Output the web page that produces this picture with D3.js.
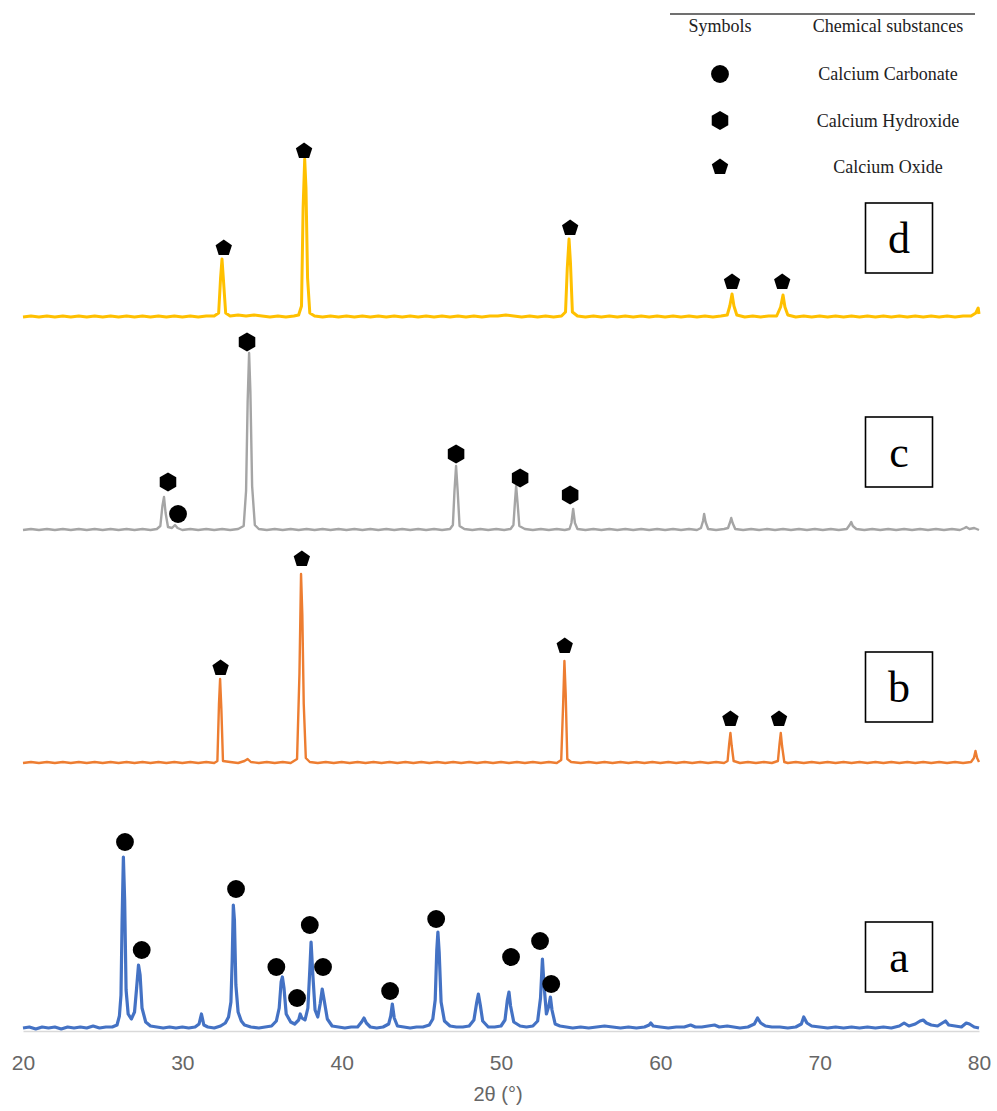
<!DOCTYPE html>
<html>
<head>
<meta charset="utf-8">
<script src="https://cdn.jsdelivr.net/npm/d3@7"></script>
<style>
  body { margin: 0; background: #fff; }
  .tick text { font-family: "Liberation Sans", Arial, sans-serif; font-size: 21px; fill: #666; }
</style>
</head>
<body>
<div id="chart"></div>
<script>
// x ticks (2 theta, degrees)
let thetaTicks = [20, 30, 40, 50, 60, 70, 80]

// sample names, bottom to top
let sampleNames = ["a", "b", "c", "d"]
let sampleColors = ["#4472C4", "#ED7D31", "#A5A5A5", "#FFC000"]

// vertical offset of each pattern (a.u.)
let sampleOffsets = [1, 267, 500, 713]

// legend
let legendKinds = ["carbonate", "hydroxide", "oxide"]
let legendNames = ["Calcium Carbonate", "Calcium Hydroxide", "Calcium Oxide"]

// patterns: [2theta, intensity above own baseline]
let patternA = [
  [20,2],[20.4,3],[20.8,1],[21.2,3],[21.6,2],[22,3],[22.4,1],[22.8,3],[23.2,2],[23.6,3],[24,2],[24.4,4],[24.8,2],[25.2,3],[25.6,3],[25.9,5],
  [26.05,14],[26.15,35],[26.22,110],[26.3,173],[26.38,130],[26.47,40],[26.6,16],[26.8,11],
  [27.0,18],[27.12,40],[27.25,65],[27.35,55],[27.47,22],[27.7,8],[28,4],[28.4,3],[28.8,2],[29.2,3],[29.6,2],[30,3],[30.4,2],[30.8,3],
  [31.05,6],[31.2,16],[31.35,5],[31.6,3],[32,2],[32.4,4],[32.7,7],
  [32.9,13],[33.05,28],[33.13,70],[33.2,125],[33.27,110],[33.36,45],[33.5,18],[33.7,9],[33.9,5],[34.3,3],[34.8,2],[35.2,3],[35.6,4],[35.9,9],
  [36.08,22],[36.2,48],[36.28,53],[36.38,42],[36.52,16],[36.8,8],[37.05,6],
  [37.3,10],[37.4,16],[37.5,12],[37.7,10],
  [37.88,22],[38.0,60],[38.08,88],[38.18,58],[38.33,20],[38.5,13],
  [38.65,26],[38.78,41],[38.9,30],[39.1,11],[39.4,4],[39.8,3],[40.2,2],[40.6,3],[41.0,3],
  [41.25,8],[41.4,12],[41.55,7],[41.8,3],[42.2,2],[42.6,3],[42.95,6],
  [43.08,14],[43.18,26],[43.3,12],[43.5,4],[43.9,3],[44.3,2],[44.7,3],[45.1,3],[45.5,5],[45.72,11],
  [45.87,30],[45.97,80],[46.04,98],[46.12,78],[46.24,28],[46.45,9],[46.8,4],[47.2,3],[47.6,3],[48.0,4],[48.3,10],
  [48.48,28],[48.58,36],[48.7,25],[48.85,9],[49.2,3],[49.6,3],[50.0,4],[50.25,10],
  [50.4,30],[50.5,38],[50.6,24],[50.8,8],[51.2,4],[51.6,3],[52.0,4],[52.3,9],
  [52.48,32],[52.6,71],[52.7,45],[52.85,16],
  [53.0,24],[53.1,33],[53.2,20],[53.4,6],[53.7,4],[54.1,3],[54.5,2],[55,3],[55.5,2],[56,3],[56.5,4],[57,3],[57.5,2],[58,3],[58.5,2],[59,3],
  [59.3,5],[59.4,7],[59.55,4],[60,3],[60.5,2],[61,3],[61.5,3],[61.9,5],[62.2,3],[62.6,3],[63.0,4],[63.4,5],[63.7,3],[64.2,4],[64.6,3],[65,2],[65.5,3],[65.9,6],
  [66.1,12],[66.3,7],[66.6,4],[67,3],[67.5,3],[68,2],[68.5,3],[68.85,6],
  [69.0,13],[69.2,7],[69.5,4],[70,3],[70.5,2],[71,3],[71.5,2],[72,3],[72.5,2],[73,3],[73.5,2],[74,3],[74.5,2],[75,4],
  [75.3,7],[75.6,4],[76,6],[76.3,9],[76.5,10],[76.7,7],[77,5],[77.4,4],[77.7,7],[77.9,9],[78.1,5],[78.5,4],[78.9,3],[79.2,7],[79.4,6],[79.7,3],[80,2]
]

let patternB = [
  [20,1],[20.5,2],[21,1],[21.5,2],[22,1],[22.5,2],[23,1],[23.5,2],[24,1],[24.5,2],[25,1],[25.5,2],[26,1],[26.5,2],[27,1],[27.5,2],[28,1],[28.5,2],
  [29,1],[29.5,2],[30,1],[30.5,2],[31,1],[31.5,2],[32,1],
  [32.2,3],[32.3,60],[32.37,85],[32.45,55],[32.55,3],[33,2],[33.5,1],[33.9,3],[34.1,5],[34.3,2],[34.8,1],[35.3,2],[35.8,1],[36.3,2],[36.8,1],
  [37.2,5],[37.35,90],[37.45,190],[37.53,150],[37.62,60],[37.75,6],[38,2],[38.5,1],[39,2],[39.5,1],[40,2],[40.5,1],[41,2],[41.5,1],[42,2],
  [42.5,1],[43,2],[43.5,1],[44,2],[44.5,1],[45,2],[45.5,1],[46,2],[46.5,1],[47,2],[47.5,1],[48,2],[48.5,1],[49,2],[49.5,1],[50,2],[50.5,1],
  [51,2],[51.5,1],[52,2],[52.5,1],[53,2],[53.5,1],
  [53.78,4],[53.9,60],[53.98,103],[54.06,70],[54.16,5],[54.4,2],[55,1],[55.5,2],[56,1],[56.5,2],[57,1],[57.5,2],[58,1],[58.5,2],[59,1],
  [59.5,2],[60,1],[60.5,2],[61,1],[61.5,2],[62,1],[62.5,2],[63,1],[63.5,2],[64,1],
  [64.22,3],[64.32,20],[64.4,31],[64.48,18],[64.6,3],[65,1],[65.5,2],[66,1],[66.5,2],[67,1],
  [67.38,3],[67.48,20],[67.56,31],[67.64,18],[67.78,2],[68,1],[68.5,2],[69,1],[69.5,2],[70,1],[70.5,2],[71,1],[71.5,2],[72,1],[72.5,2],
  [73,1],[73.5,2],[74,1],[74.5,2],[75,1],[75.5,2],[76,1],[76.5,2],[77,1],[77.5,2],[78,1],[78.5,2],[79,1],[79.5,2],
  [79.68,6],[79.78,13],[79.88,6],[80,2]
]

let patternC = [
  [20,1],[20.5,2],[21,1],[21.5,2],[22,1],[22.5,2],[23,1],[23.5,2],[24,1],[24.5,2],[25,1],[25.5,2],[26,1],[26.5,2],[27,1],[27.5,2],[28,1],[28.4,2],
  [28.62,5],[28.75,25],[28.85,34],[28.95,18],[29.1,4],[29.35,3],[29.54,6],[29.7,3],[30,1],[30.5,2],[31,1],[31.5,2],[32,1],[32.5,2],[33,1],[33.5,2],
  [33.85,5],[34.0,40],[34.1,130],[34.19,178],[34.27,140],[34.38,45],[34.55,6],[34.8,2],[35.3,1],[35.8,2],[36.3,1],[36.8,2],[37.3,1],[37.8,2],
  [38.3,1],[38.8,2],[39.3,1],[39.8,2],[40.3,1],[40.8,2],[41.3,1],[41.8,2],[42.3,1],[42.8,2],[43.3,1],[43.8,2],[44.3,1],[44.8,2],[45.3,1],
  [45.8,2],[46.3,1],[46.8,2],
  [46.98,6],[47.08,40],[47.18,65],[47.28,40],[47.4,5],[47.7,2],[48.2,1],[48.7,2],[49.2,1],[49.7,2],[50.2,1],[50.6,2],
  [50.78,6],[50.88,30],[50.95,45],[51.04,28],[51.15,5],[51.5,2],[52,1],[52.5,2],[53,1],[53.5,2],[54,1],[54.3,2],
  [54.42,8],[54.53,22],[54.64,8],[54.8,2],[55.3,1],[55.8,2],[56.3,1],[56.8,2],[57.3,1],[57.8,2],[58.3,1],[58.8,2],[59.3,1],[59.8,2],
  [60.3,1],[60.8,2],[61.3,1],[61.8,2],[62.3,1],[62.55,3],
  [62.68,10],[62.75,17],[62.84,9],[63.0,2],[63.5,1],[64.0,2],[64.25,3],[64.38,9],[64.45,13],[64.54,8],[64.7,2],[65.2,1],[65.7,2],[66.2,1],
  [66.7,2],[67.2,1],[67.7,2],[68.2,1],[68.7,2],[69.2,1],[69.7,2],[70.2,1],[70.7,2],[71.2,1],[71.7,2],
  [71.88,6],[71.98,9],[72.08,5],[72.3,2],[72.8,1],[73.3,2],[73.8,1],[74.3,2],[74.8,1],[75.3,2],[75.8,1],[76.3,2],[76.8,1],[77.3,2],
  [77.8,1],[78.3,2],[78.8,1],[79.1,3],[79.2,4],[79.4,2],[79.7,3],[80,1]
]

let patternD = [
  [20,1],[20.5,2],[21,1],[21.5,2],[22,1],[22.5,2],[23,1],[23.5,2],[24,1],[24.5,2],[25,1],[25.5,2],[26,1],[26.5,2],[27,1],[27.5,2],[28,1],
  [28.5,2],[29,1],[29.5,2],[30,1],[30.5,2],[31,1],[31.5,2],[32,2],
  [32.28,5],[32.4,40],[32.49,59],[32.58,38],[32.72,5],[33,2],[33.5,3],[34,2],[34.5,3],[35,2],[35.5,1],[36,2],[36.5,1],[37,2],[37.3,3],
  [37.48,12],[37.58,110],[37.68,159],[37.76,130],[37.86,40],[38.0,5],[38.3,2],[38.8,1],[39.3,2],[39.8,1],[40.3,2],[40.8,1],[41.3,2],
  [41.8,1],[42.3,2],[42.8,1],[43.3,2],[43.8,1],[44.3,2],[44.8,1],[45.3,2],[45.8,1],[46.3,2],[46.8,1],[47.3,2],[47.8,1],[48.3,2],[48.8,1],
  [49.3,2],[49.8,2],[50.3,3],[50.8,2],[51.3,1],[51.8,2],[52.3,1],[52.8,2],[53.3,1],[53.8,2],
  [54.05,6],[54.16,50],[54.27,79],[54.36,55],[54.48,6],[54.8,2],[55.3,1],[55.8,2],[56.3,1],[56.8,2],[57.3,1],[57.8,2],[58.3,1],[58.8,2],
  [59.3,1],[59.8,2],[60.3,1],[60.8,2],[61.3,1],[61.8,2],[62.3,1],[62.8,2],[63.3,1],[63.8,2],[64.2,3],
  [64.36,12],[64.5,24],[64.62,12],[64.8,3],[65.3,1],[65.8,2],[66.3,1],[66.8,2],[67.3,2],
  [67.55,11],[67.7,23],[67.82,11],[68.0,3],[68.5,1],[69,2],[69.5,1],[70,2],[70.5,1],[71,2],[71.5,1],[72,2],[72.5,1],[73,2],[73.5,1],
  [74,2],[74.5,1],[75,2],[75.5,1],[76,2],[76.5,1],[77,2],[77.5,1],[78,2],[78.5,1],[79,2],[79.5,2],[79.8,5],[79.95,10],[80,4]
]

let patterns = [patternA, patternB, patternC, patternD]

// phase markers: [2theta, level above own baseline, kind]
let markersA = [
  [26.4,188,"carbonate"],[27.45,80,"carbonate"],[33.37,141,"carbonate"],[35.9,63,"carbonate"],[37.2,32,"carbonate"],
  [38.0,105,"carbonate"],[38.83,63,"carbonate"],[43.04,39,"carbonate"],[45.93,111,"carbonate"],[50.63,73,"carbonate"],
  [52.45,89,"carbonate"],[53.15,46,"carbonate"]
]
let markersB = [
  [32.4,96,"oxide"],[37.5,205,"oxide"],[54.0,118,"oxide"],[64.4,45,"oxide"],[67.45,45,"oxide"]
]
let markersC = [
  [29.1,49,"hydroxide"],[29.73,17,"carbonate"],[34.06,189,"hydroxide"],[47.18,77,"hydroxide"],[51.2,53,"hydroxide"],[54.34,36,"hydroxide"]
]
let markersD = [
  [32.6,70,"oxide"],[37.64,167,"oxide"],[54.34,90,"oxide"],[64.5,36,"oxide"],[67.65,36,"oxide"]
]
let markerSets = [markersA, markersB, markersC, markersD]

let width = 997
let height = 1111

let svg = d3.select("#chart")
  .append("svg")
  .attr("width", width)
  .attr("height", height)
  .style("font-family", "'Liberation Serif', 'Times New Roman', serif")

let xScale = d3.scaleLinear()
  .domain([20, 80])
  .range([23, 979])

let yScale = d3.scaleLinear()
  .domain([0, 1031])
  .range([1031, 0])

// custom symbols, size is an area like d3.symbolCircle
function polygonSymbol(sides, startAngle){
  return {
    draw: function(context, size){
      let r = Math.sqrt(size / Math.PI) * 1.05
      for(let i = 0; i < sides; i++){
        let a = startAngle + i * 2 * Math.PI / sides
        let px = r * Math.cos(a)
        let py = r * Math.sin(a)
        if(i === 0) context.moveTo(px, py)
        else context.lineTo(px, py)
      }
      context.closePath()
    }
  }
}

let symbolTypes = {
  carbonate: d3.symbolCircle,
  hydroxide: polygonSymbol(6, -Math.PI / 2),
  oxide: polygonSymbol(5, -Math.PI / 2)
}
let symbolSizes = { carbonate: 250, hydroxide: 260, oxide: 210 }

// x axis
let xAxis = d3.axisBottom(xScale)
  .tickValues(thetaTicks)
  .tickSize(0)
  .tickFormat(d3.format("d"))

let xg = svg.append("g")
  .attr("class", "xAxis")
  .attr("transform", `translate(0, ${yScale(0)})`)
  .call(xAxis)
xg.select(".domain").attr("stroke", "#d9d9d9").attr("stroke-width", 1.5)
xg.selectAll(".tick text").attr("y", 32).attr("dy", "0.35em")

svg.append("text")
  .attr("x", xScale(50) - 3)
  .attr("y", 1101)
  .attr("text-anchor", "middle")
  .style("font-family", "'Liberation Sans', Arial, sans-serif")
  .style("font-size", "20px")
  .attr("fill", "#666")
  .text("2θ (°)")

// patterns
patterns.forEach(function(pat, i){
  let off = sampleOffsets[i]
  svg.append("path")
    .datum(pat)
    .attr("fill", "none")
    .attr("stroke", sampleColors[i])
    .attr("stroke-width", [3.2, 2.4, 2.4, 3][i])
    .attr("stroke-linejoin", "round")
    .attr("d", d3.line()
      .x(d => xScale(d[0]))
      .y(d => yScale(off + d[1]))
    )
})

// markers
markerSets.forEach(function(set, i){
  let off = sampleOffsets[i]
  svg.append("g")
    .selectAll("path")
    .data(set)
    .join("path")
    .attr("transform", d => `translate(${xScale(d[0])}, ${yScale(off + d[1])})`)
    .attr("d", d => d3.symbol().type(symbolTypes[d[2]]).size(symbolSizes[d[2]])())
    .attr("fill", "#000")
})

// sample label boxes
let boxW = 67
let boxH = 70
let boxCenterX = 899
let boxLift = [73, 77, 79, 80]

sampleNames.forEach(function(name, i){
  let cy = yScale(sampleOffsets[i] + boxLift[i])
  let g = svg.append("g")
  g.append("rect")
    .attr("x", boxCenterX - boxW / 2)
    .attr("y", cy - boxH / 2)
    .attr("width", boxW)
    .attr("height", boxH)
    .attr("fill", "#fff")
    .attr("stroke", "#000")
    .attr("stroke-width", 1.6)
  g.append("text")
    .attr("x", boxCenterX)
    .attr("y", cy + 15)
    .attr("text-anchor", "middle")
    .style("font-size", "44px")
    .attr("fill", "#000")
    .text(name)
})

// legend table
let legend = svg.append("g").attr("class", "legend")
legend.append("line")
  .attr("x1", 670).attr("x2", 975)
  .attr("y1", 14).attr("y2", 14)
  .attr("stroke", "#404040")
  .attr("stroke-width", 1.5)

legend.append("text")
  .attr("x", 720).attr("y", 32)
  .attr("text-anchor", "middle")
  .style("font-size", "18px")
  .attr("fill", "#222")
  .text("Symbols")
legend.append("text")
  .attr("x", 888).attr("y", 32)
  .attr("text-anchor", "middle")
  .style("font-size", "18px")
  .attr("fill", "#222")
  .text("Chemical substances")

legendKinds.forEach(function(kind, i){
  let ly = 74 + i * 46.5
  legend.append("path")
    .attr("transform", `translate(720, ${ly})`)
    .attr("d", d3.symbol().type(symbolTypes[kind]).size(symbolSizes[kind])())
    .attr("fill", "#000")
  legend.append("text")
    .attr("x", 888).attr("y", ly + 6)
    .attr("text-anchor", "middle")
    .style("font-size", "18px")
    .attr("fill", "#222")
    .text(legendNames[i])
})
</script>
</body>
</html>
